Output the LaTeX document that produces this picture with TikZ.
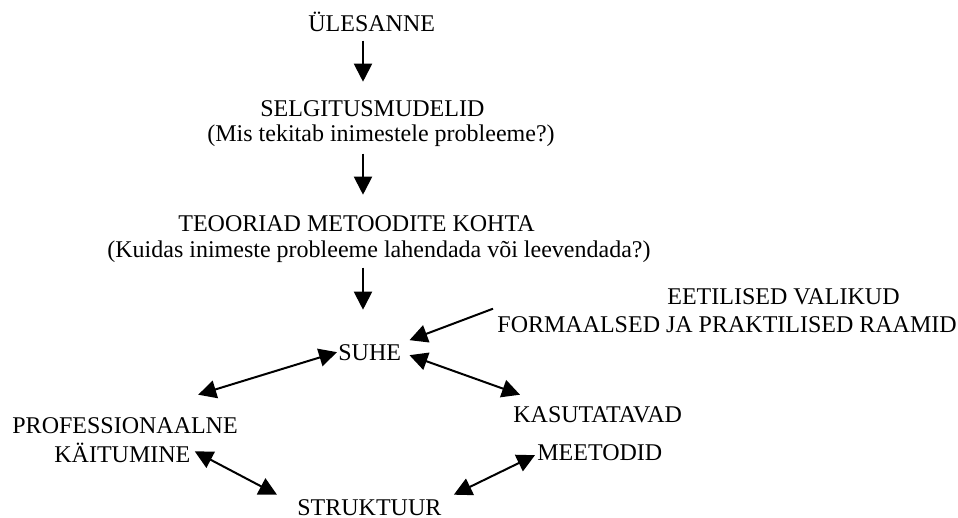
\documentclass[tikz,border=0pt]{standalone}
\usepackage{fontspec}
\setmainfont{Liberation Serif}
\usetikzlibrary{arrows.meta}
\tikzset{
    lbl/.style={anchor=base west, inner sep=0pt, font=\fontsize{12}{14}\selectfont},
    arr/.style={-{Triangle[length=9pt,width=9pt]}, line width=1pt},
    dbl/.style={{Triangle[length=9pt,width=9pt]}-{Triangle[length=9pt,width=9pt]}, line width=1pt}
}
\begin{document}
\begin{tikzpicture}[x=0.5pt, y=-0.5pt]
        \useasboundingbox (0, 0) rectangle (958, 518);
        % chain down the middle
        \node[lbl] (ulesanne) at (308, 32) {ÜLESANNE};
        \node[lbl] (selgitus) at (260, 117) {SELGITUSMUDELID};
        \node[lbl] (selgitus-q) at (207, 142) {(Mis tekitab inimestele probleeme?)};
        \node[lbl] (teooriad) at (178, 232) {TEOORIAD METOODITE KOHTA};
        \node[lbl] (teooriad-q) at (107, 257) {(Kuidas inimeste probleeme lahendada või leevendada?)};
        \node[lbl] (suhe) at (338, 360) {SUHE};
        % frames
        \node[lbl] (eetilised) at (667, 305) {EETILISED VALIKUD};
        \node[lbl] (raamid) at (497, 332) {FORMAALSED JA PRAKTILISED RAAMID};
        % lower ring
        \node[lbl] (prof) at (12, 433) {PROFESSIONAALNE};
        \node[lbl] (kaitumine) at (54, 462) {KÄITUMINE};
        \node[lbl] (kasutatavad) at (513, 422) {KASUTATAVAD};
        \node[lbl] (meetodid) at (537, 460) {MEETODID};
        \node[lbl] (struktuur) at (297, 515) {STRUKTUUR};
        \coordinate (axis) at (363, 0);
        \draw[arr] ([yshift=-4pt]ulesanne.south -| axis) -- ([yshift=9.5pt]selgitus.north -| axis);
        \draw[arr] ([yshift=-3pt]selgitus-q.south -| axis) -- ([yshift=10.5pt]teooriad.north -| axis);
        \draw[arr] ([yshift=-2.5pt]teooriad-q.south -| axis) -- ([yshift=17pt]suhe.north -| axis);
        \draw[arr] ([shift={(-2pt,3.5pt)}]raamid.north west) -- ([shift={(4pt,6pt)}]suhe.east);
        \draw[dbl] ([shift={(-20pt,11pt)}]prof.north east) -- ([xshift=-0.5pt]suhe.west);
        \draw[dbl] ([shift={(4pt,-1.5pt)}]suhe.east) -- ([shift={(3.5pt,5.5pt)}]kasutatavad.north west);
        \draw[dbl] ([shift={(2pt,0.5pt)}]kaitumine.east) -- ([shift={(-10pt,2pt)}]struktuur.north west);
        \draw[dbl] ([shift={(6pt,2pt)}]struktuur.north east) -- ([shift={(-1pt,-1.5pt)}]meetodid.west);
\end{tikzpicture}
\end{document}
